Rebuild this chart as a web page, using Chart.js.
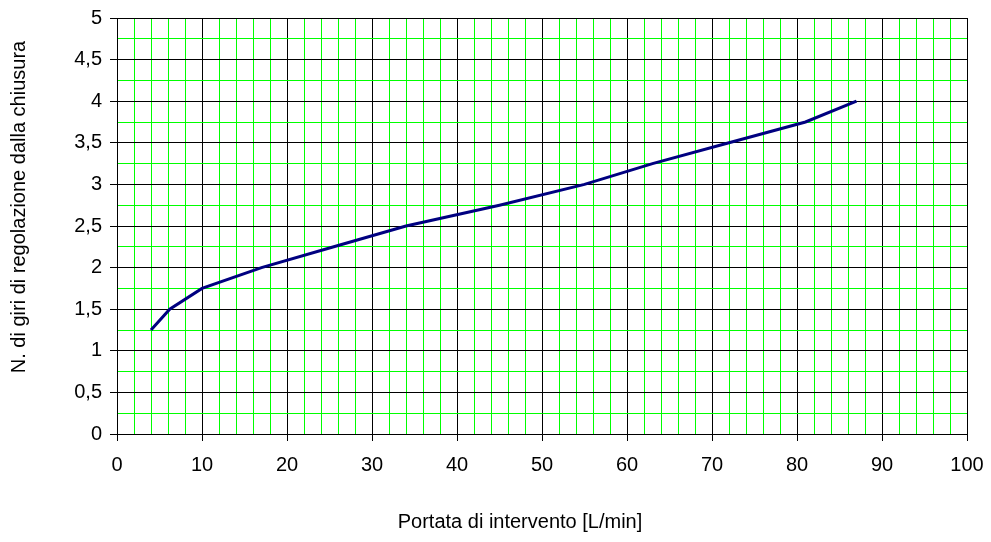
<!DOCTYPE html>
<html>
<head>
<meta charset="utf-8">
<script src="https://cdn.jsdelivr.net/npm/chart.js@4"></script>
<style>
html,body{margin:0;padding:0;background:#fff;}
#wrap{width:991px;height:542px;}
</style>
</head>
<body>
<div id="wrap"><canvas id="c" width="991" height="542"></canvas></div>
<script>
const flowValues = [4, 6.2, 10, 17, 25.5, 34, 45, 55, 63, 72, 81, 87];
const turnValues = [1.25, 1.5, 1.75, 2, 2.25, 2.5, 2.75, 3, 3.25, 3.5, 3.75, 4];
const xTitle = 'Portata di intervento [L/min]';
const yTitle = 'N. di giri di regolazione dalla chiusura';

const FONT = 'Liberation Sans, Arial, sans-serif';
const FS = 20;

const isMajorX = v => Math.abs(v % 10) < 1e-9;
const isMajorY = v => Math.abs(v * 2 - Math.round(v * 2)) < 1e-9;

const titlePlugin = {
  id: 'titles',
  afterDraw(chart) {
    const ctx = chart.ctx;
    ctx.save();
    ctx.fillStyle = '#000';
    ctx.font = FS + 'px ' + FONT;
    ctx.textAlign = 'center';
    ctx.textBaseline = 'middle';
    ctx.fillText(xTitle, 520, 522);
    ctx.translate(19, 207);
    ctx.rotate(-Math.PI / 2);
    ctx.fillText(yTitle, 0, 0);
    ctx.restore();
  }
};

new Chart(document.getElementById('c'), {
  type: 'line',
  data: {
    datasets: [{
      data: flowValues.map((x, i) => ({x: x, y: turnValues[i]})),
      borderColor: '#000080',
      borderWidth: 3,
      pointRadius: 0,
      tension: 0,
      fill: false
    }]
  },
  options: {
    responsive: false,
    animation: false,
    layout: {padding: {left: 0, right: 24, top: 18, bottom: 0}},
    plugins: {legend: {display: false}, tooltip: {enabled: false}},
    scales: {
      x: {
        type: 'linear',
        min: 0, max: 100,
        afterFit(s) { s.height = 108; s.paddingLeft = 0; s.paddingRight = 0; },
        border: {display: true, color: '#000', width: 1},
        grid: {
          color: c => (c.tick && isMajorX(c.tick.value)) ? '#000000' : '#00ff00',
          tickColor: c => (c.tick && isMajorX(c.tick.value)) ? '#000000' : 'rgba(255,255,255,0)',
          lineWidth: 1,
          tickLength: 7
        },
        ticks: {
          stepSize: 2,
          autoSkip: false,
          maxRotation: 0,
          padding: 12,
          color: '#000',
          font: {family: FONT, size: FS},
          callback: v => isMajorX(v) ? String(v) : ''
        }
      },
      y: {
        type: 'linear',
        min: 0, max: 5,
        afterFit(s) { s.width = 117; s.paddingTop = 0; s.paddingBottom = 0; },
        border: {display: true, color: '#000', width: 1},
        grid: {
          color: c => (c.tick && isMajorY(c.tick.value)) ? '#000000' : '#00ff00',
          tickColor: c => (c.tick && isMajorY(c.tick.value)) ? '#000000' : 'rgba(255,255,255,0)',
          lineWidth: 1,
          tickLength: 7
        },
        ticks: {
          stepSize: 0.25,
          autoSkip: false,
          padding: 8,
          color: '#000',
          font: {family: FONT, size: FS},
          callback: v => isMajorY(v) ? String(v).replace('.', ',') : ''
        }
      }
    }
  },
  plugins: [titlePlugin]
});
</script>
</body>
</html>
